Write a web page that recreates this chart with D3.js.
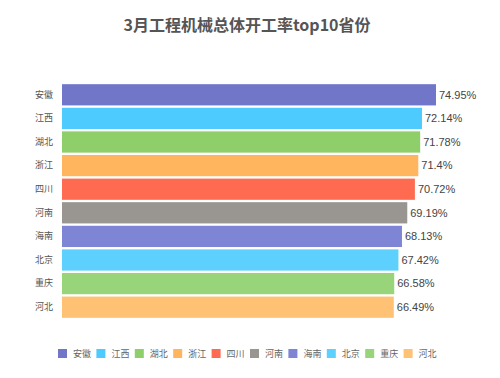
<!DOCTYPE html>
<html>
<head>
<meta charset="utf-8">
<script src="https://cdn.jsdelivr.net/npm/d3@7"></script>
<style>
  body { margin: 0; background: #fff; }
  svg { font-family: "Noto Sans CJK SC", "Liberation Sans", sans-serif; }
</style>
</head>
<body>
<svg id="chart"></svg>
<script>
const provinces = ["安徽", "江西", "湖北", "浙江", "四川", "河南", "海南", "北京", "重庆", "河北"];
const rates     = [74.95, 72.14, 71.78, 71.4, 70.72, 69.19, 68.13, 67.42, 66.58, 66.49];
const colors    = ["#7176c9", "#4dcbfe", "#8ecf69", "#ffb55e", "#ff6b50", "#999590",
                   "#7e85d5", "#5dd0fe", "#97d47a", "#ffc173"];
const title     = "3月工程机械总体开工率top10省份";

drawBars();

function drawBars() {
  const W = 500, H = 378;
  const svg = d3.select("#chart").attr("width", W).attr("height", H);

  const margin = {top: 83, right: 64, bottom: 59, left: 62},
    width  = W - margin.left - margin.right,
    height = H - margin.top - margin.bottom;

  const scaleX = d3.scaleLinear().domain([0, 74.95]).range([0, width]),
    scaleY = d3.scaleBand().domain(provinces).range([0, height]).paddingInner(0.1).paddingOuter(0.05),
    scaleC = d3.scaleOrdinal().domain(provinces).range(colors);

  svg.append("text")
    .attr("x", 247).attr("y", 31)
    .attr("text-anchor", "middle")
    .attr("font-size", "16px")
    .attr("font-weight", "bold")
    .attr("fill", "#555")
    .text(title);

  const g = svg.append("g")
    .attr("transform", `translate(${margin.left},${margin.top})`);

  g.selectAll(".bar")
    .data(provinces)
    .enter().append("rect")
    .attr("class", "bar")
    .attr("x", 0)
    .attr("y", d => scaleY(d))
    .attr("width", (d, i) => scaleX(rates[i]))
    .attr("height", scaleY.bandwidth())
    .attr("fill", d => scaleC(d));

  g.selectAll(".val")
    .data(provinces)
    .enter().append("text")
    .attr("class", "val")
    .attr("x", (d, i) => scaleX(rates[i]) + 3)
    .attr("y", d => scaleY(d) + scaleY.bandwidth() / 2)
    .attr("dy", "0.35em")
    .attr("font-size", "11px")
    .attr("fill", "#444")
    .attr("font-family", "Liberation Sans, Arial, sans-serif")
    .text((d, i) => rates[i] + "%");

  // category axis
  const yAxis = g.append("g")
    .call(d3.axisLeft(scaleY).tickSize(0).tickPadding(9));
  yAxis.select(".domain").remove();
  yAxis.selectAll("text")
    .attr("font-size", "9px")
    .attr("fill", "#555")
    .attr("font-family", "Noto Sans CJK SC, sans-serif");

  // legend
  const legend = svg.append("g")
    .attr("transform", "translate(58,349)");

  const items = legend.selectAll(".item")
    .data(provinces)
    .enter().append("g")
    .attr("class", "item")
    .attr("transform", (d, i) => `translate(${i * 38.4},0)`);

  items.append("rect")
    .attr("width", 9).attr("height", 9)
    .attr("fill", d => scaleC(d));

  items.append("text")
    .attr("x", 15).attr("y", 4.5)
    .attr("dy", "0.35em")
    .attr("font-size", "9px")
    .attr("fill", "#666")
    .text(d => d);
}
</script>
</body>
</html>
